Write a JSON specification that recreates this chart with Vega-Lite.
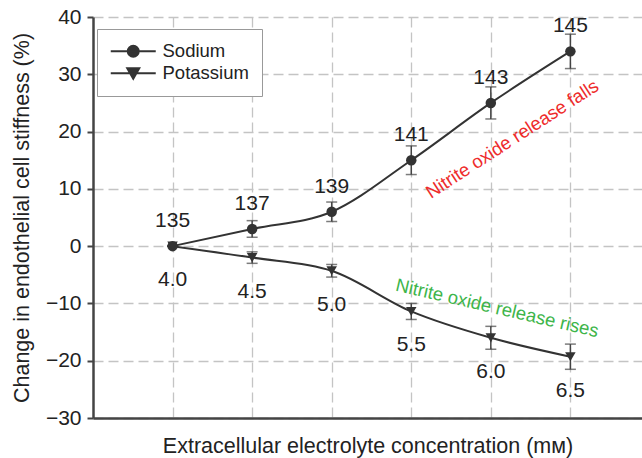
{
  "$schema": "https://vega.github.io/schema/vega-lite/v6.json",
  "autosize": {"type": "none"},
  "padding": {"left": 93, "top": 17, "right": 0, "bottom": 40},
  "width": 549,
  "height": 401,
  "background": "white",
  "config": {
    "view": {"stroke": null},
    "font": "Liberation Sans",
    "axis": {
      "domainColor": "#444",
      "domainWidth": 2.5,
      "tickColor": "#444",
      "tickWidth": 2,
      "tickSize": 6,
      "labelFont": "Liberation Sans",
      "labelFontSize": 21,
      "labelColor": "#222",
      "titleFont": "Liberation Sans",
      "titleFontSize": 21.5,
      "titleFontWeight": "normal",
      "titleColor": "#222",
      "gridColor": "#c4c4c4",
      "gridDash": [10, 5],
      "gridWidth": 1.3
    }
  },
  "datasets": {
    "main": [
      {"series": "Sodium", "i": 0, "value": 0, "err": 0, "label": "135"},
      {"series": "Sodium", "i": 1, "value": 3, "err": 1.45, "label": "137"},
      {"series": "Sodium", "i": 2, "value": 6, "err": 1.7, "label": "139"},
      {"series": "Sodium", "i": 3, "value": 15, "err": 2.5, "label": "141"},
      {"series": "Sodium", "i": 4, "value": 25, "err": 2.8, "label": "143"},
      {"series": "Sodium", "i": 5, "value": 34, "err": 3, "label": "145"},
      {"series": "Potassium", "i": 0, "value": 0, "err": 0, "label": "4.0"},
      {"series": "Potassium", "i": 1, "value": -2, "err": 1, "label": "4.5"},
      {"series": "Potassium", "i": 2, "value": -4.3, "err": 1.1, "label": "5.0"},
      {"series": "Potassium", "i": 3, "value": -11.4, "err": 1.4, "label": "5.5"},
      {"series": "Potassium", "i": 4, "value": -16, "err": 2, "label": "6.0"},
      {"series": "Potassium", "i": 5, "value": -19.3, "err": 2.2, "label": "6.5"}
    ]
  },
  "data": {"name": "main"},
  "layer": [
    {
      "mark": {"type": "errorbar", "color": "#444", "thickness": 1.5, "ticks": {"size": 11, "thickness": 1.5, "color": "#444"}},
      "encoding": {
        "x": {
          "field": "i", "type": "quantitative",
          "scale": {"domain": [-1, 5.9], "nice": false, "zero": false},
          "axis": {"values": [0, 1, 2, 3, 4, 5], "labels": false, "ticks": false, "grid": true, "title": "Extracellular electrolyte concentration (mм)", "titlePadding": 17}
        },
        "y": {
          "field": "value", "type": "quantitative",
          "scale": {"domain": [-30, 40], "nice": false},
          "axis": {"values": [-30, -20, -10, 0, 10, 20, 30, 40], "grid": true, "labelPadding": 6, "title": "Change in endothelial cell stiffness (%)", "titlePadding": 12}
        },
        "yError": {"field": "err"}
      }
    },
    {
      "mark": {"type": "line", "color": "#333", "strokeWidth": 2, "interpolate": "monotone"},
      "encoding": {
        "x": {"field": "i", "type": "quantitative"},
        "y": {"field": "value", "type": "quantitative"},
        "detail": {"field": "series"}
      }
    },
    {
      "transform": [{"filter": "datum.series === 'Sodium'"}],
      "mark": {"type": "point", "shape": "circle", "filled": true, "color": "#333", "opacity": 1, "size": 110},
      "encoding": {
        "x": {"field": "i", "type": "quantitative"},
        "y": {"field": "value", "type": "quantitative"}
      }
    },
    {
      "transform": [{"filter": "datum.series === 'Potassium'"}],
      "mark": {"type": "point", "shape": "triangle-down", "filled": true, "color": "#333", "opacity": 1, "size": 110},
      "encoding": {
        "x": {"field": "i", "type": "quantitative"},
        "y": {"field": "value", "type": "quantitative"}
      }
    },
    {
      "transform": [{"filter": "datum.i > 100"}],
      "mark": {"type": "point", "filled": true, "color": "#333", "stroke": "#333", "strokeWidth": 2, "opacity": 1},
      "encoding": {
        "x": {"field": "i", "type": "quantitative"},
        "y": {"field": "value", "type": "quantitative"},
        "shape": {
          "field": "series", "type": "nominal",
          "scale": {"domain": ["Sodium", "Potassium"], "range": ["M-4.5,0H4.5M1.1,0A1.1,1.1 0 1,1 -1.1,0A1.1,1.1 0 1,1 1.1,0Z", "M-4.5,0H4.5M-1.2,-1L1.2,-1L0,1.1Z"]},
          "legend": {
            "title": null,
            "orient": "none",
            "legendX": 4,
            "legendY": 12,
            "fillColor": "white",
            "strokeColor": "#999",
            "padding": 13,
            "symbolSize": 100,
            "symbolOffset": 14,
            "labelOffset": 20,
            "labelFont": "Liberation Sans",
            "labelFontSize": 18.5,
            "labelColor": "#222",
            "rowPadding": 3,
            "symbolStrokeWidth": 2,
            "symbolFillColor": "#333",
            "symbolStrokeColor": "#333",
            "symbolOpacity": 1,
            "encoding": {
              "symbols": {
                "fill": {"value": "#333"},
                "stroke": {"value": "#333"},
                "strokeWidth": {"value": 2},
                "opacity": {"value": 1}
              }
            }
          }
        }
      }
    },
    {
      "transform": [{"filter": "datum.series === 'Sodium'"}],
      "mark": {"type": "text", "fontSize": 21, "color": "#222", "align": "center", "baseline": "alphabetic", "dy": -19},
      "encoding": {
        "x": {"field": "i", "type": "quantitative"},
        "y": {"field": "value", "type": "quantitative"},
        "text": {"field": "label"}
      }
    },
    {
      "transform": [{"filter": "datum.series === 'Potassium'"}],
      "mark": {"type": "text", "fontSize": 21, "color": "#222", "align": "center", "baseline": "alphabetic", "dy": 40},
      "encoding": {
        "x": {"field": "i", "type": "quantitative"},
        "y": {"field": "value", "type": "quantitative"},
        "text": {"field": "label"}
      }
    },
    {
      "data": {"values": [{"i": 4.27, "value": 18.7, "note": "Nitrite oxide release falls"}]},
      "mark": {"type": "text", "fontSize": 18.5, "color": "#ee2b2b", "align": "center", "baseline": "middle", "angle": -33},
      "encoding": {
        "x": {"field": "i", "type": "quantitative"},
        "y": {"field": "value", "type": "quantitative"},
        "text": {"field": "note"}
      }
    },
    {
      "data": {"values": [{"i": 4.08, "value": -10.8, "note": "Nitrite oxide release rises"}]},
      "mark": {"type": "text", "fontSize": 18.5, "color": "#3db54a", "align": "center", "baseline": "middle", "angle": 13},
      "encoding": {
        "x": {"field": "i", "type": "quantitative"},
        "y": {"field": "value", "type": "quantitative"},
        "text": {"field": "note"}
      }
    }
  ]
}
